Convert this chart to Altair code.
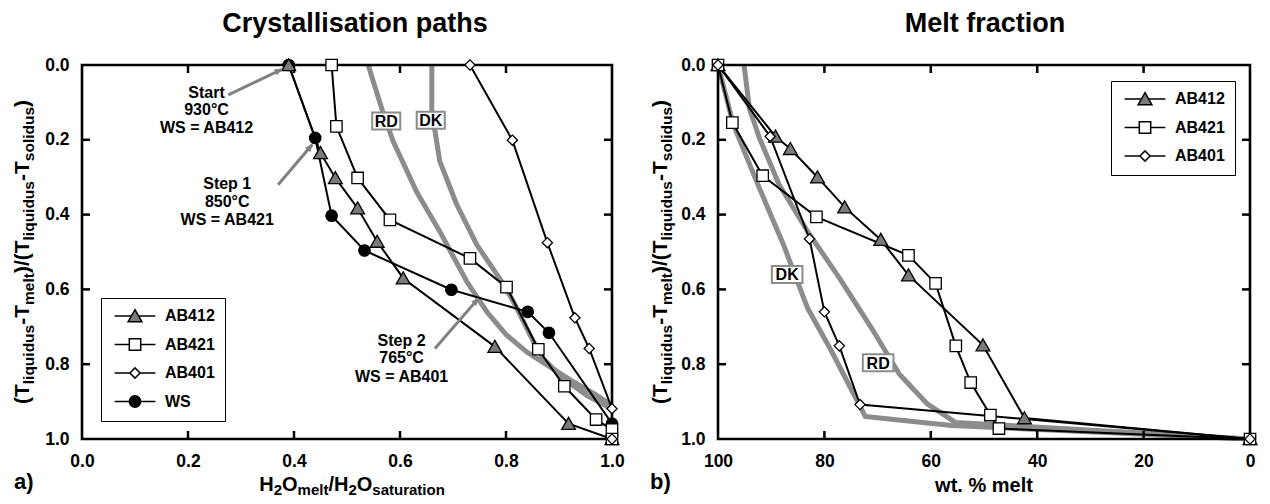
import math
import altair as alt
import pandas as pd

FONT = "Liberation Sans"

# ---------------- Panel a) Crystallisation paths ----------------
SERIES_A = ["AB412", "AB421", "AB401", "WS"]
ab412_a_x = [0.39, 0.45, 0.478, 0.52, 0.557, 0.606, 0.779, 0.918, 1.0]
ab412_a_y = [0.0, 0.235, 0.302, 0.383, 0.472, 0.57, 0.753, 0.959, 1.0]
ab421_a_x = [0.471, 0.48, 0.52, 0.581, 0.732, 0.801, 0.861, 0.91, 0.97, 1.0, 1.0]
ab421_a_y = [0.0, 0.164, 0.302, 0.414, 0.517, 0.594, 0.76, 0.859, 0.948, 0.975, 1.0]
ab401_a_x = [0.732, 0.812, 0.878, 0.93, 0.957, 1.0, 1.0]
ab401_a_y = [0.0, 0.201, 0.475, 0.676, 0.758, 0.919, 1.0]
ws_a_x = [0.39, 0.44, 0.471, 0.533, 0.697, 0.841, 0.881, 1.0]
ws_a_y = [0.0, 0.195, 0.403, 0.496, 0.601, 0.66, 0.716, 0.959]

CURVES = ["RD", "DK"]
rd_a_x = [0.54, 0.567, 0.587, 0.631, 0.675, 0.726, 0.764, 0.801, 0.839, 0.877, 0.927, 0.971, 1.0]
rd_a_y = [0.0, 0.123, 0.204, 0.338, 0.445, 0.579, 0.66, 0.722, 0.767, 0.802, 0.847, 0.883, 0.91]
dk_a_x = [0.66, 0.66, 0.675, 0.707, 0.745, 0.792, 0.814, 0.833, 0.852, 0.87, 0.908, 0.952, 1.0]
dk_a_y = [0.0, 0.123, 0.257, 0.373, 0.481, 0.579, 0.633, 0.686, 0.74, 0.785, 0.838, 0.883, 0.92]

# annotation texts (panel a)
ann_text = ["Start", "930°C", "WS = AB412",
            "Step 1", "850°C", "WS = AB421",
            "Step 2", "765°C", "WS = AB401"]
ann_x = [0.235] * 3 + [0.274] * 3 + [0.603] * 3
ann_y = [0.074, 0.121, 0.169, 0.317, 0.365, 0.414, 0.737, 0.783, 0.834]
arrow_x1 = [0.276, 0.370, 0.666]
arrow_y1 = [0.080, 0.320, 0.758]
arrow_x2 = [0.377, 0.4345, 0.748]
arrow_y2 = [0.0115, 0.2126, 0.624]
lab_a_text = ["RD", "DK"]
lab_a_x = [0.574, 0.658]
lab_a_y = [0.150, 0.148]

# ---------------- Panel b) Melt fraction ----------------
SERIES_B = ["AB412", "AB421", "AB401"]
ab412_b_x = [100, 89.2, 86.4, 81.3, 76.2, 69.4, 64.2, 50.2, 42.4, 0]
ab412_b_y = [0, 0.191, 0.224, 0.30, 0.38, 0.467, 0.562, 0.749, 0.944, 1.0]
ab421_b_x = [100, 97.3, 91.6, 81.5, 64.2, 59.1, 55.3, 52.5, 48.8, 47.2, 0]
ab421_b_y = [0, 0.154, 0.296, 0.406, 0.509, 0.584, 0.751, 0.849, 0.936, 0.972, 1.0]
ab401_b_x = [100, 90.2, 82.8, 80.0, 77.2, 73.3, 0]
ab401_b_y = [0, 0.191, 0.465, 0.66, 0.751, 0.908, 1.0]
dk_b_x = [100, 97.1, 92.2, 87.7, 83.2, 78.7, 72.3, 56.1, 0]
dk_b_y = [0, 0.16, 0.33, 0.48, 0.649, 0.764, 0.94, 0.964, 1.0]
rd_b_x = [95.1, 94.1, 92.2, 88.5, 83.2, 77.2, 71.2, 65.9, 60.6, 55.3, 0]
rd_b_y = [0, 0.116, 0.196, 0.32, 0.444, 0.569, 0.702, 0.827, 0.907, 0.956, 1.0]
lab_b_text = ["DK", "RD"]
lab_b_x = [87.0, 69.9]
lab_b_y = [0.56, 0.796]

ticks_a_x = [0.0, 0.2, 0.4, 0.6, 0.8, 1.0]
ticks_y = [0.0, 0.2, 0.4, 0.6, 0.8, 1.0]
ticks_b_x = [100, 80, 60, 40, 20, 0]

# ---------------- styling ----------------
W_A, W_B, H = 530, 532, 374
GRAY = "#8c8c8c"
ARROW = "#808080"
MARK_SIZE = 144  # unit = sqrt(size)/2 = 6 px

MARKER_PATH = {
    "AB412": "M0,-1.05L1.15,0.95L-1.15,0.95Z",
    "AB421": "M-0.95,-0.95H0.95V0.95H-0.95Z",
    "AB401": "M0,-0.85L0.85,0L0,0.85L-0.85,0Z",
    "WS": "M0.95,0A0.95,0.95,0,1,1,-0.95,0A0.95,0.95,0,1,1,0.95,0Z",
}
LEGEND_PATH = {
    "AB412": "M-3.4,0H-0.6M0.6,0H3.4M0,-1.05L1.15,0.95L-1.15,0.95Z",
    "AB421": "M-3.4,0H-0.95M0.95,0H3.4M-0.95,-0.95H0.95V0.95H-0.95Z",
    "AB401": "M-3.4,0H-0.85M0.85,0H3.4M0,-0.85L0.85,0L0,0.85L-0.85,0Z",
    "WS": "M-3.4,0H-0.95M0.95,0H3.4M0.95,0A0.95,0.95,0,1,1,-0.95,0A0.95,0.95,0,1,1,0.95,0Z",
}
MARKER_FILL = {"AB412": "#7a7a7a", "AB421": "white", "AB401": "white", "WS": "black"}

CW = {' ': 278, '%': 889, '(': 333, ')': 333, '-': 333, '.': 278, '/': 278, '2': 556,
      'H': 722, 'O': 778, 'T': 611, 'a': 556, 'd': 611, 'e': 556, 'i': 278, 'l': 278,
      'm': 889, 'n': 611, 'o': 611, 'q': 611, 'r': 389, 's': 556, 't': 333, 'u': 611, 'w': 778}


def text_w(s, size):
    return sum(CW.get(c, 556) for c in s) * size / 1000.0


def long_df(names, xs, ys):
    rows = []
    for n, xv, yv in zip(names, xs, ys):
        for i, (a, b) in enumerate(zip(xv, yv)):
            rows.append({"name": n, "i": i, "x": a, "y": b})
    return pd.DataFrame(rows)


def axis(values, fmt):
    return alt.Axis(values=values, format=fmt, title=None, domain=False, ticks=False, grid=False,
                    labelFont=FONT, labelFontSize=17.5, labelFontWeight="bold", labelColor="black",
                    labelPadding=13, labelFlush=False, labelOverlap=False, labelBound=False)


def rich_text(segments, x0, y0, angle, main, sub, shift):
    widths = [text_w(t, sub if s else main) for t, s in segments]
    cum = -sum(widths) / 2.0
    out = []
    for (t, s), wd in zip(segments, widths):
        out.append(
            alt.Chart(pd.DataFrame({"t": [t]})).mark_text(
                align="left", baseline="alphabetic", angle=angle, dx=cum, dy=shift if s else 0,
                font=FONT, fontWeight="bold", fontSize=sub if s else main, color="black"
            ).encode(text="t:N", x=alt.value(x0), y=alt.value(y0))
        )
        cum += wd
    return out


def plain_text(t, x0, y0, size, align="center"):
    return alt.Chart(pd.DataFrame({"t": [t]})).mark_text(
        align=align, baseline="alphabetic", font=FONT, fontWeight="bold", fontSize=size, color="black"
    ).encode(text="t:N", x=alt.value(x0), y=alt.value(y0))


def make_panel(w, xs, xa, ys, ya, series, pts, curves, labels, xticks, legend_xy, box_w):
    X = lambda f="x": alt.X(f + ":Q", scale=xs, axis=xa)
    Y = lambda f="y": alt.Y(f + ":Q", scale=ys, axis=ya)
    layers = []
    layers.append(alt.Chart(curves).mark_line(color=GRAY, strokeWidth=5, strokeJoin="round").encode(
        x=X(), y=Y(), detail="name:N", order="i:Q"))
    layers.append(alt.Chart(pts).mark_line(color="black", strokeWidth=2).encode(
        x=X(), y=Y(), detail="name:N", order="i:Q"))
    # frame
    layers.append(alt.Chart(pd.DataFrame({"f": [0]})).mark_rect(
        filled=False, stroke="black", strokeWidth=2.6, fill="transparent").encode(
        x=alt.value(0), x2=alt.value(w), y=alt.value(0), y2=alt.value(H)))
    # inward ticks (line-shaped symbols)
    tx = pd.DataFrame({"x": xticks[1:-1]})
    ty = pd.DataFrame({"y": ticks_y[1:-1]})
    tk = dict(filled=False, stroke="black", strokeWidth=2.5, size=256, opacity=1)
    layers.append(alt.Chart(tx).mark_point(shape="M0,0V1", **tk).encode(x=X(), y=alt.value(0)))
    layers.append(alt.Chart(tx).mark_point(shape="M0,0V-1", **tk).encode(x=X(), y=alt.value(H)))
    layers.append(alt.Chart(ty).mark_point(shape="M0,0H1", **tk).encode(y=Y(), x=alt.value(0)))
    layers.append(alt.Chart(ty).mark_point(shape="M0,0H-1", **tk).encode(y=Y(), x=alt.value(w)))
    draw_order = (["WS"] if "WS" in series else []) + [s for s in series if s != "WS"]
    for n in draw_order:
        layers.append(alt.Chart(pts[pts.name == n]).mark_point(
            shape=MARKER_PATH[n], filled=True, fill=MARKER_FILL[n], stroke="black",
            strokeWidth=1.3, size=MARK_SIZE, opacity=1).encode(x=X(), y=Y()))
    # curve label boxes
    box = "M-%.2f,-1H%.2fV1H-%.2fZ" % (box_w, box_w, box_w)
    layers.append(alt.Chart(labels).mark_point(
        shape=box, filled=True, fill="white", stroke=GRAY, strokeWidth=2, size=289, opacity=1
    ).encode(x=X(), y=Y()))
    layers.append(alt.Chart(labels).mark_text(
        font=FONT, fontWeight="bold", fontSize=16, color="black", baseline="middle", dy=1
    ).encode(x=X(), y=Y(), text="t:N"))
    # legend (built from the shape / fill / stroke scales, no visible data)
    lg = alt.Legend(title=None, orient="none", legendX=legend_xy[0], legendY=legend_xy[1],
                    labelFont=FONT, labelFontSize=16, labelFontWeight="bold", labelColor="black",
                    symbolSize=MARK_SIZE, symbolStrokeWidth=1.5,
                    symbolOffset=16, labelOffset=22, padding=10, rowPadding=10.5,
                    strokeColor="black", fillColor="white")
    legdf = pd.DataFrame({"name": series})
    layers.append(alt.Chart(legdf).transform_filter("datum.name == 'none'").mark_point(
        filled=True, strokeWidth=1.5, opacity=1).encode(
        shape=alt.Shape("name:N", scale=alt.Scale(domain=series, range=[LEGEND_PATH[s] for s in series]), legend=lg),
        fill=alt.Fill("name:N", scale=alt.Scale(domain=series, range=[MARKER_FILL[s] for s in series]), legend=lg),
        stroke=alt.Stroke("name:N", scale=alt.Scale(domain=series, range=["black"] * len(series)), legend=lg),
    ))
    return layers


# ---------- panel a ----------
xs_a = alt.Scale(domain=[0, 1], nice=False, zero=False)
ys = alt.Scale(domain=[0, 1], reverse=True, nice=False, zero=False)
xa_a = axis(ticks_a_x, ".1f")
ya = axis(ticks_y, ".1f")
pts_a = long_df(SERIES_A, [ab412_a_x, ab421_a_x, ab401_a_x, ws_a_x], [ab412_a_y, ab421_a_y, ab401_a_y, ws_a_y])
cur_a = long_df(CURVES, [rd_a_x, dk_a_x], [rd_a_y, dk_a_y])
labs_a = pd.DataFrame({"t": lab_a_text, "x": lab_a_x, "y": lab_a_y})
layers_a = make_panel(W_A, xs_a, xa_a, ys, ya, SERIES_A, pts_a, cur_a, labs_a, ticks_a_x, (19, 233), 1.65)

Xa = lambda f: alt.X(f + ":Q", scale=xs_a, axis=xa_a)
Ya = lambda f: alt.Y(f + ":Q", scale=ys, axis=ya)
ann_df = pd.DataFrame({"t": ann_text, "x": ann_x, "y": ann_y})
layers_a.append(alt.Chart(ann_df).mark_text(font=FONT, fontWeight="bold", fontSize=16, color="black",
                                            baseline="middle").encode(x=Xa("x"), y=Ya("y"), text="t:N"))
arr = pd.DataFrame({"x": arrow_x1, "y": arrow_y1, "x2": arrow_x2, "y2": arrow_y2})
arr["ang"] = [
    (math.degrees(math.atan2((b - a) * W_A, -(d - c) * H)) + 360) % 360
    for a, b, c, d in zip(arrow_x1, arrow_x2, arrow_y1, arrow_y2)
]
layers_a.append(alt.Chart(arr).mark_rule(color=ARROW, strokeWidth=3).encode(
    x=Xa("x"), y=Ya("y"), x2="x2:Q", y2="y2:Q"))
head = arr[["x2", "y2", "ang"]].rename(columns={"x2": "x", "y2": "y"})
layers_a.append(alt.Chart(head).mark_point(shape="M0,0L0.75,1.7L-0.75,1.7Z", filled=True, fill=ARROW,
                                           stroke=ARROW, strokeWidth=0.5, size=64, opacity=1).encode(
    x=Xa("x"), y=Ya("y"), angle=alt.Angle("ang:Q", scale=None)))

layers_a.append(plain_text("Crystallisation paths", W_A / 2 + 8, -33, 27))
layers_a += rich_text([("H", 0), ("2", 1), ("O", 0), ("melt", 1), ("/H", 0), ("2", 1), ("O", 0), ("saturation", 1)],
                      270, 426, 0, 20, 15, 4)
ytitle = [("(T", 0), ("liquidus", 1), ("-T", 0), ("melt", 1), (")/(T", 0), ("liquidus", 1),
          ("-T", 0), ("solidus", 1), (")", 0)]
layers_a += rich_text(ytitle, -53, 187, 270, 21, 15.5, 5)
layers_a.append(plain_text("a)", -68, 424, 22, "left"))
left = alt.layer(*layers_a).properties(width=W_A, height=H)

# ---------- panel b ----------
xs_b = alt.Scale(domain=[0, 100], reverse=True, nice=False, zero=False)
xa_b = axis(ticks_b_x, "d")
pts_b = long_df(SERIES_B, [ab412_b_x, ab421_b_x, ab401_b_x], [ab412_b_y, ab421_b_y, ab401_b_y])
cur_b = long_df(CURVES, [rd_b_x, dk_b_x], [rd_b_y, dk_b_y])
labs_b = pd.DataFrame({"t": lab_b_text, "x": lab_b_x, "y": lab_b_y})
layers_b = make_panel(W_B, xs_b, xa_b, ys, ya, SERIES_B, pts_b, cur_b, labs_b, ticks_b_x, (393, 16), 1.8)
layers_b.append(plain_text("Melt fraction", W_B / 2 + 1, -33, 27))
layers_b.append(plain_text("wt. % melt", W_B / 2, 427, 20))
layers_b += rich_text(ytitle, -51, 187, 270, 21, 15.5, 5)
layers_b.append(plain_text("b)", -68, 424, 22, "left"))
right = alt.layer(*layers_b).properties(width=W_B, height=H)

chart = alt.hconcat(left, right, spacing=106, bounds="flush").resolve_scale(
    shape="independent", fill="independent", stroke="independent"
).properties(
    padding={"left": 11, "top": 9, "right": 5, "bottom": 2}
).configure_view(stroke="transparent")

chart.save("out.html", embed_options={"renderer": "svg", "actions": False})
